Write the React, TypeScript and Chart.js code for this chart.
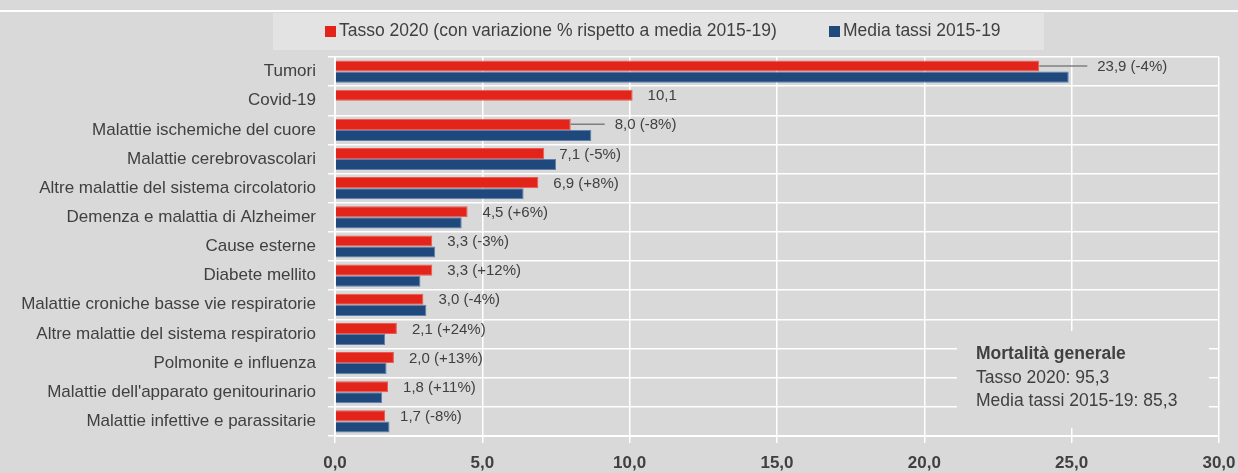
import React, { useEffect, useRef } from 'react';
import { Chart, registerables } from 'chart.js';

Chart.register(...registerables);

const categories = [
  'Tumori',
  'Covid-19',
  'Malattie ischemiche del cuore',
  'Malattie cerebrovascolari',
  'Altre malattie del sistema circolatorio',
  'Demenza e malattia di Alzheimer',
  'Cause esterne',
  'Diabete mellito',
  'Malattie croniche basse vie respiratorie',
  'Altre malattie del sistema respiratorio',
  'Polmonite e influenza',
  "Malattie dell'apparato genitourinario",
  'Malattie infettive e parassitarie',
];
const tasso2020 = [23.9, 10.1, 8.0, 7.1, 6.9, 4.5, 3.3, 3.3, 3.0, 2.1, 2.0, 1.8, 1.7];
const media2015_19 = [24.9, null, 8.7, 7.5, 6.4, 4.3, 3.4, 2.9, 3.1, 1.7, 1.75, 1.6, 1.85];
const variazioni = [-4, null, -8, -5, 8, 6, -3, 12, -4, 24, 13, 11, -8];
const seriesNames = ['Tasso 2020 (con variazione % rispetto a media 2015-19)', 'Media tassi 2015-19'];
const boxTitle = 'Mortalità generale';
const boxLines = ['Tasso 2020: 95,3', 'Media tassi 2015-19: 85,3'];

const RED = '#e3241a';
const BLUE = '#1f497d';
const TEXT = '#404040';
const BG = '#d9d9d9';
const FONT = '"Liberation Sans Narrow", "Arial Narrow", "Liberation Sans", Arial, sans-serif';

const fmt = (v: number) => v.toFixed(1).replace('.', ',');

const decorPlugin = {
  id: 'decor',
  beforeDraw(chart: any) {
    const { ctx, width } = chart;
    ctx.save();
    ctx.fillStyle = BG;
    ctx.fillRect(0, 0, width, chart.height);
    ctx.fillStyle = '#ffffff';
    ctx.fillRect(0, 10, width, 2);
    // legend box
    ctx.fillStyle = '#e3e3e3';
    ctx.fillRect(273, 13, 771, 37);
    ctx.font = `17.5px ${FONT}`;
    ctx.textBaseline = 'middle';
    ctx.textAlign = 'left';
    const colors = [RED, BLUE];
    const starts = [325, 829];
    seriesNames.forEach((name, i) => {
      ctx.fillStyle = colors[i];
      ctx.fillRect(starts[i], 26, 11, 11);
      ctx.fillStyle = TEXT;
      ctx.fillText(name, starts[i] + 14, 31);
    });
    ctx.restore();
  },
  afterDraw(chart: any) {
    const { ctx } = chart;
    ctx.save();
    // annotation box
    ctx.fillStyle = BG;
    ctx.fillRect(957, 331, 252, 97);
    ctx.fillStyle = TEXT;
    ctx.textBaseline = 'middle';
    ctx.textAlign = 'left';
    ctx.font = `bold 17.5px ${FONT}`;
    ctx.fillText(boxTitle, 976, 354);
    ctx.font = `17.5px ${FONT}`;
    boxLines.forEach((l, i) => ctx.fillText(l, 976, 378 + i * 23));
    ctx.restore();
  },
};

const leaderLengths: Record<number, number> = { 0: 48, 2: 34 };

const labelPlugin = {
  id: 'barLabels',
  afterDatasetsDraw(chart: any) {
    const { ctx } = chart;
    const meta = chart.getDatasetMeta(0);
    ctx.save();
    ctx.font = `15px ${FONT}`;
    ctx.fillStyle = TEXT;
    ctx.textBaseline = 'middle';
    ctx.textAlign = 'left';
    meta.data.forEach((bar: any, i: number) => {
      const v = tasso2020[i];
      const p = variazioni[i];
      const txt = p === null ? fmt(v) : `${fmt(v)} (${p > 0 ? '+' : ''}${p}%)`;
      const lead = leaderLengths[i] || 0;
      let x = bar.x + 15;
      if (lead) {
        ctx.strokeStyle = '#7f7f7f';
        ctx.lineWidth = 1.5;
        ctx.beginPath();
        ctx.moveTo(bar.x, bar.y);
        ctx.lineTo(bar.x + lead, bar.y);
        ctx.stroke();
        x = bar.x + lead + 10;
      }
      ctx.fillText(txt, x, bar.y + 1);
    });
    ctx.restore();
  },
};

export default function App() {
  const ref = useRef<HTMLCanvasElement>(null);
  useEffect(() => {
    document.body.style.margin = '0';
    const chart = new Chart(ref.current as HTMLCanvasElement, {
      type: 'bar',
      data: {
        labels: categories,
        datasets: [
          {
            label: seriesNames[0],
            data: tasso2020,
            backgroundColor: RED,
            borderColor: '#ea5a50',
            borderWidth: 1,
            categoryPercentage: 0.76,
            barPercentage: 1,
          },
          {
            label: seriesNames[1],
            data: media2015_19 as any,
            backgroundColor: BLUE,
            borderColor: '#5f80ad',
            borderWidth: 1,
            categoryPercentage: 0.76,
            barPercentage: 1,
          },
        ],
      },
      options: {
        indexAxis: 'y',
        animation: false,
        responsive: false,
        maintainAspectRatio: false,
        layout: { padding: { top: 57, right: 19, left: 0, bottom: 0 } },
        plugins: {
          legend: { display: false },
          tooltip: { enabled: false },
        },
        scales: {
          x: {
            min: 0,
            max: 30,
            afterFit: (s: any) => {
              s.height = 37;
              s.paddingRight = 0;
              s.paddingLeft = 0;
            },
            ticks: {
              stepSize: 5,
              color: TEXT,
              font: { family: FONT, size: 17, weight: 'bold' },
              padding: 10,
              callback: (v: any) => fmt(Number(v)),
            },
            grid: { color: '#ffffff', lineWidth: 1.5, tickLength: 7, tickColor: '#ffffff' },
            border: { color: '#ffffff', width: 2 },
          },
          y: {
            afterFit: (s: any) => {
              s.width = 335;
              s.paddingTop = 0;
              s.paddingBottom = 0;
            },
            ticks: {
              color: TEXT,
              font: { family: FONT, size: 17 },
              padding: 12,
            },
            grid: { color: '#ffffff', lineWidth: 1.5, tickLength: 7, tickColor: '#ffffff', offset: true },
            border: { color: '#ffffff', width: 2 },
          },
        },
      },
      plugins: [decorPlugin, labelPlugin],
    });
    return () => chart.destroy();
  }, []);
  return (
    <div style={{ width: 1238, height: 473, background: BG }}>
      <canvas ref={ref} width={1238} height={473} style={{ display: 'block' }} />
    </div>
  );
}
